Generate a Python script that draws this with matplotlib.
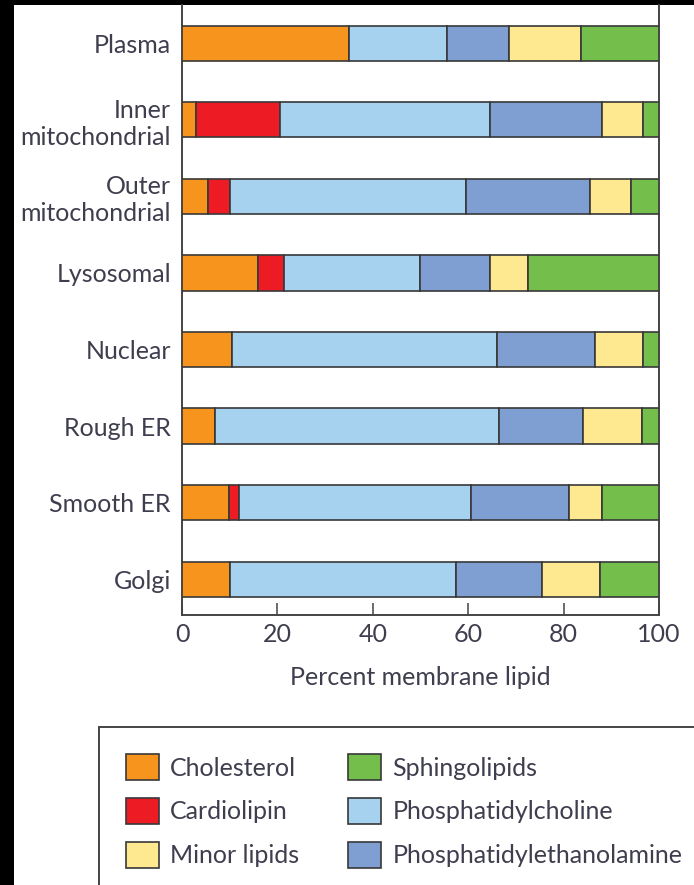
import matplotlib
matplotlib.use("Agg")
import matplotlib.pyplot as plt
from matplotlib.patches import Rectangle
import numpy as np

plt.rcParams['font.family'] = ['Lato', 'DejaVu Sans']

categories = ['Plasma', 'Inner\nmitochondrial', 'Outer\nmitochondrial', 'Lysosomal',
              'Nuclear', 'Rough ER', 'Smooth ER', 'Golgi']
cholesterol = [35.0, 3.0, 5.4, 15.9, 10.4, 6.9, 9.9, 10.0]
cardiolipin = [0.0, 17.5, 4.7, 5.5, 0.0, 0.0, 2.1, 0.0]
phosphatidylcholine = [20.5, 44.0, 49.4, 28.5, 55.6, 59.6, 48.6, 47.4]
phosphatidylethanolamine = [13.1, 23.6, 26.0, 14.6, 20.5, 17.6, 20.5, 18.1]
minor_lipids = [15.0, 8.6, 8.6, 8.0, 10.2, 12.4, 7.0, 12.1]
sphingolipids = [16.4, 3.3, 5.9, 27.5, 3.3, 3.5, 11.9, 12.4]
xticks = [0, 20, 40, 60, 80, 100]

series = [
    ('Cholesterol', cholesterol, '#F7941D'),
    ('Cardiolipin', cardiolipin, '#ED1C24'),
    ('Phosphatidylcholine', phosphatidylcholine, '#A6D2F0'),
    ('Phosphatidylethanolamine', phosphatidylethanolamine, '#7F9FD3'),
    ('Minor lipids', minor_lipids, '#FEE991'),
    ('Sphingolipids', sphingolipids, '#74BE4B'),
]

TXT = '#3e3e4e'
EDGE = '#383838'
W, H = 694, 885
fig = plt.figure(figsize=(W / 100, H / 100), dpi=100, facecolor='black')

# white panel
fig.patches.append(Rectangle((14 / W, 0), 1, 1 - 5 / H, transform=fig.transFigure,
                             facecolor='white', edgecolor='none', zorder=-5))

ax = fig.add_axes([182 / W, 1 - 615 / H, 477 / W, 610 / H])
y = np.arange(len(categories))
left = np.zeros(len(categories))
handles = {}
for name, vals, col in series:
    vals = np.array(vals)
    b = ax.barh(y, vals, left=left, height=0.46, color=col, edgecolor=EDGE,
                linewidth=1.2, label=name, zorder=3)
    handles[name] = b
    left += vals

ax.set_xlim(0, 100)
ax.set_ylim(7.468, -0.5)
ax.set_yticks(y)
ax.set_yticklabels(categories, fontsize=18, color=TXT)
ax.set_xticks(xticks)
ax.set_xticklabels([str(t) for t in xticks], fontsize=18, color=TXT)
ax.tick_params(axis='y', length=0, pad=8)
ax.tick_params(axis='x', direction='in', length=8.5, width=1.1, color='#444444', pad=6)
for s in ['left', 'right', 'bottom']:
    ax.spines[s].set_color('#444444')
    ax.spines[s].set_linewidth(1.4)
ax.spines['top'].set_visible(False)

ax.set_xlabel('Percent membrane lipid', fontsize=18, color=TXT)
ax.xaxis.set_label_coords(0.5, (615 - 685) / 610)
ax.xaxis.label.set_verticalalignment('baseline')

# legend box
fig.patches.append(Rectangle((99 / W, -0.1), 1, 1 - 727 / H + 0.1, transform=fig.transFigure,
                             facecolor='white', edgecolor='#444444', linewidth=1.4, zorder=1))

common = dict(frameon=False, fontsize=18, handlelength=1.32, handleheight=1.24,
              handletextpad=0.44, labelspacing=0.70, borderpad=0, borderaxespad=0,
              labelcolor=TXT, loc='upper left')
col1 = ['Cholesterol', 'Cardiolipin', 'Minor lipids']
col2 = ['Sphingolipids', 'Phosphatidylcholine', 'Phosphatidylethanolamine']
leg1 = fig.legend([handles[n] for n in col1], col1,
                  bbox_to_anchor=(125.7 / W, 1 - 754 / H), **common)
leg2 = fig.legend([handles[n] for n in col2], col2,
                  bbox_to_anchor=(348.3 / W, 1 - 754 / H), **common)
for leg in (leg1, leg2):
    leg.set_zorder(2)

fig.savefig('out.png', dpi=100, facecolor='black')
